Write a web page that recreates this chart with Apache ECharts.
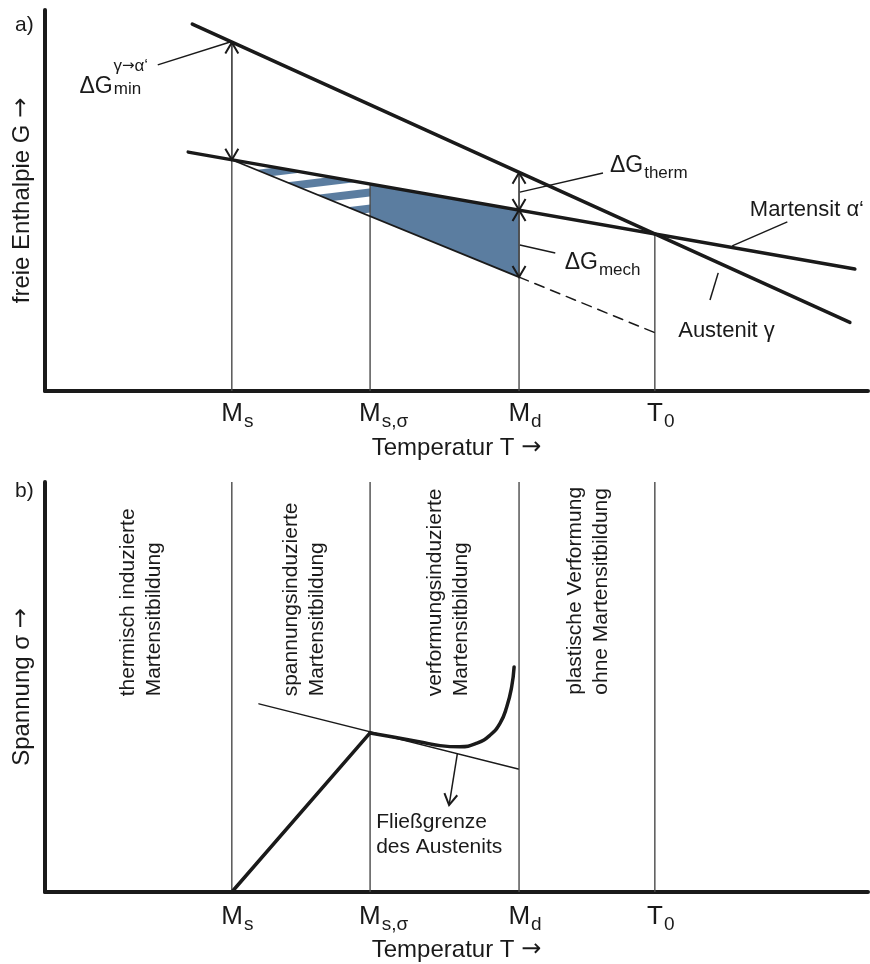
<!DOCTYPE html>
<html>
<head>
<meta charset="utf-8">
<title>Martensitbildung – freie Enthalpie und Spannung</title>
<script src="https://cdn.jsdelivr.net/npm/echarts@6/dist/echarts.min.js"></script>
<style>
  html, body { margin: 0; padding: 0; background: #fff; }
  #chart { width: 870px; height: 964px; }
</style>
</head>
<body>
<div id="chart"></div>
<script>
// schematic units: x = Temperatur 0..100, y = G (a) bzw. Spannung (b) 0..100
const tempTicks = [22.7, 39.5, 57.6, 74.1];
const tempMain = ['M', 'M', 'M', 'T'];
const tempSub = ['s', 's,σ', 'd', '0'];

// a) freie Enthalpie
const austenitLine = [[17.9, 96.3], [97.8, 18.0]];
const martensitLine = [[17.4, 62.7], [98.4, 32.0]];
const mechLine = [[22.7, 60.7], [57.6, 29.9]];
const mechDashed = [[57.6, 29.9], [74.1, 15.3]];
const fillArea = [[39.5, 54.3], [57.6, 47.5], [57.6, 29.9], [39.5, 45.9]];
const hatchArea = [[22.7, 60.7], [39.5, 54.3], [39.5, 45.9]];
const gVerticalTop = [91.5, 54.3, 57.3, 41.2];
// x1, y1, x2, y2, head at start, head at end
const gArrows = [
  [22.7, 91.5, 22.7, 60.7, 1, 1],
  [57.6, 57.3, 57.6, 47.5, 1, 1],
  [57.6, 47.5, 57.6, 29.9, 1, 1]
];
const gLeaders = [
  [13.7, 85.6, 22.5, 91.6],
  [57.7, 52.2, 67.8, 57.2],
  [57.7, 38.3, 62.0, 36.2],
  [90.2, 44.4, 83.5, 38.1],
  [81.8, 31.0, 80.8, 23.9]
];
const gLabelX = [4.25, 68.7, 63.2, 85.7, 77.0];
const gLabelY = [81.9, 58.8, 33.3, 47.5, 15.7];
const gLabelText = [
  '{pad| }{sup|γ}{arr|→}{sup|α‘}\n{g|ΔG}{subm|min}',
  '{g|ΔG}{sub|therm}',
  '{g|ΔG}{sub|mech}',
  '{t|Martensit α‘}',
  '{t|Austenit γ}'
];

// b) Spannung
const sigmaThick = [[22.7, 0], [39.5, 38.8]];
const fliessLine = [[26.0, 45.9], [57.5, 30.0]];
const sigmaCurve = [
  [39.5, 38.8], [42.3, 37.8], [45.6, 36.6], [48.0, 35.7], [50.4, 35.4], [52.5, 36.3],
  [54.1, 38.3], [55.3, 41.2], [56.1, 45.1], [56.7, 50.0], [57.0, 54.9]
];
const sVerticalTop = [100, 100, 100, 100];
const sArrows = [[50.1, 33.7, 49.1, 21.2, 0, 1]];
const zoneX = [11.7, 31.6, 49.1, 66.1];
const zoneY = [47.6, 47.6, 47.6, 48.0];
const zoneText = [
  'thermisch induzierte\nMartensitbildung',
  'spannungsinduzierte\nMartensitbildung',
  'verformungsinduzierte\nMartensitbildung',
  'plastische Verformung\nohne Martensitbildung'
];
const fliessX = [40.3];
const fliessY = [13.8];
const fliessText = ['Fließgrenze\ndes Austenits'];

const FONT = '"Liberation Sans", Arial, Helvetica, sans-serif';
const ARROW_FONT = '"DejaVu Sans", sans-serif';
const INK = '#1a1a1a';
const GREY = '#4a4a4a';
const BLUE = '#5b7da0';

// striped fill for the hatched triangle
const stripe = document.createElement('canvas');
stripe.width = 16;
stripe.height = 16;
const sctx = stripe.getContext('2d');
sctx.fillStyle = '#fff';
sctx.fillRect(0, 0, 16, 16);
sctx.fillStyle = BLUE;
sctx.fillRect(0, 0, 16, 8);

const RICH = {
  g: { fontSize: 23, lineHeight: 24, verticalAlign: 'top', fontFamily: FONT, color: INK },
  sub: { fontSize: 17, lineHeight: 17, padding: [10, 0, 0, 1], verticalAlign: 'top', fontFamily: FONT, color: INK },
  subm: { fontSize: 17, lineHeight: 17, padding: [5, 0, 0, 1], verticalAlign: 'top', fontFamily: FONT, color: INK },
  sup: { fontSize: 17, lineHeight: 18, fontFamily: FONT, color: INK },
  arr: { fontSize: 15, lineHeight: 18, fontFamily: ARROW_FONT, color: INK },
  pad: { width: 34, fontSize: 17, lineHeight: 18 },
  t: { fontSize: 22, lineHeight: 24, fontFamily: FONT, color: INK }
};

const TICK_RICH = {
  m: { fontSize: 26, lineHeight: 26, verticalAlign: 'top', fontFamily: FONT, color: INK },
  s: { fontSize: 19, lineHeight: 19, padding: [11, 0, 0, 1], verticalAlign: 'top', fontFamily: FONT, color: INK },
  p0: { width: 11, fontSize: 19 },
  p1: { width: 27, fontSize: 19 },
  p2: { width: 12, fontSize: 19 },
  p3: { width: 12, fontSize: 19 }
};

const NAME_RICH = {
  a: { fontFamily: ARROW_FONT, fontSize: 24, color: INK }
};

function tickLabel(v) {
  const i = tempTicks.indexOf(v);
  if (i < 0) return '';
  return '{p' + i + '| }{m|' + tempMain[i] + '}{s|' + tempSub[i] + '}';
}

function lineSeries(grid, data, width, dash, smooth) {
  return {
    type: 'line', xAxisIndex: grid, yAxisIndex: grid, data: data,
    symbol: 'none', silent: true, smooth: !!smooth,
    lineStyle: { color: INK, width: width, type: dash || 'solid', cap: 'round' }
  };
}

function chevron(tip, from) {
  const dx = tip[0] - from[0], dy = tip[1] - from[1];
  const l = Math.hypot(dx, dy) || 1;
  const ux = dx / l, uy = dy / l;
  const bx = tip[0] - ux * 11, by = tip[1] - uy * 11;
  return [[bx - uy * 6.5, by + ux * 6.5], tip, [bx + uy * 6.5, by - ux * 6.5]];
}

function segmentSeries(grid, rows, color, width) {
  return {
    type: 'custom', xAxisIndex: grid, yAxisIndex: grid, silent: true, data: rows,
    renderItem: function (params, api) {
      const a = api.coord([api.value(0), api.value(1)]);
      const b = api.coord([api.value(2), api.value(3)]);
      const children = [{
        type: 'line', shape: { x1: a[0], y1: a[1], x2: b[0], y2: b[1] },
        style: { stroke: color, lineWidth: width }
      }];
      if (api.value(4)) children.push({ type: 'polyline', shape: { points: chevron(a, b) }, style: { stroke: INK, lineWidth: 2, fill: null } });
      if (api.value(5)) children.push({ type: 'polyline', shape: { points: chevron(b, a) }, style: { stroke: INK, lineWidth: 2, fill: null } });
      return { type: 'group', children: children };
    }
  };
}

function polySeries(grid, pts, fill) {
  return {
    type: 'custom', xAxisIndex: grid, yAxisIndex: grid, silent: true, data: [[0, 0]],
    renderItem: function (params, api) {
      const px = pts.map(function (p) { return api.coord(p); });
      // stripes start at the tip of the triangle
      const f = fill === 'hatch'
        ? { image: stripe, repeat: 'repeat', rotation: -0.12, x: px[0][0], y: px[0][1] - 3 }
        : fill;
      return { type: 'polygon', shape: { points: px }, style: { fill: f } };
    }
  };
}

function labelSeries(grid, xs, ys, texts, extra) {
  return {
    type: 'scatter', xAxisIndex: grid, yAxisIndex: grid, silent: true, clip: false,
    symbolSize: 1, itemStyle: { color: 'rgba(0,0,0,0)', opacity: 1 },
    data: xs.map(function (x, i) { return [x, ys[i]]; }),
    label: Object.assign({
      show: true, position: [0, 0], align: 'left', verticalAlign: 'middle',
      color: INK, fontFamily: FONT, fontSize: 21,
      formatter: function (p) { return texts[p.dataIndex]; }
    }, extra)
  };
}

const verticalsA = tempTicks.map(function (x, i) { return [x, gVerticalTop[i], x, 0, 0, 0]; });
const verticalsB = tempTicks.map(function (x, i) { return [x, sVerticalTop[i], x, 0, 0, 0]; });
const leaderRows = gLeaders.map(function (r) { return r.concat([0, 0]); });

function xAxis(grid, margin, gap) {
  return {
    type: 'value', gridIndex: grid, min: 0, max: 100,
    axisLine: { show: true, onZero: false, lineStyle: { color: INK, width: 4 } },
    axisTick: { show: false }, splitLine: { show: false },
    axisLabel: { show: true, customValues: tempTicks, margin: margin, formatter: tickLabel, rich: TICK_RICH },
    name: 'Temperatur T {a|→}', nameLocation: 'middle', nameGap: gap,
    nameTextStyle: { fontSize: 24, fontFamily: FONT, color: INK, rich: NAME_RICH }
  };
}

function yAxis(grid, name) {
  return {
    type: 'value', gridIndex: grid, min: 0, max: 100,
    axisLine: { show: true, onZero: false, lineStyle: { color: INK, width: 4 } },
    axisTick: { show: false }, splitLine: { show: false }, axisLabel: { show: false },
    name: name + ' {a|→}', nameLocation: 'middle', nameRotate: 90, nameGap: 11,
    nameTextStyle: { fontSize: 24, fontFamily: FONT, color: INK, rich: NAME_RICH }
  };
}

const chart = echarts.init(document.getElementById('chart'));
const option = {
  animation: false,
  backgroundColor: '#fff',
  grid: [
    { left: 45, top: 10, width: 823, height: 381, outerBoundsMode: 'none' },
    { left: 45, top: 482, width: 823, height: 410, outerBoundsMode: 'none' }
  ],
  xAxis: [xAxis(0, 10, 45), xAxis(1, 12, 46)],
  yAxis: [yAxis(0, 'freie Enthalpie G'), yAxis(1, 'Spannung σ')],
  graphic: [
    { type: 'text', left: 15, top: 15, style: { text: 'a)', fontSize: 21, fontFamily: FONT, fill: INK } },
    { type: 'text', left: 15, top: 481, style: { text: 'b)', fontSize: 21, fontFamily: FONT, fill: INK } }
  ],
  series: [
    // a)
    polySeries(0, fillArea, BLUE),
    polySeries(0, hatchArea, 'hatch'),
    segmentSeries(0, verticalsA, GREY, 1.4),
    lineSeries(0, mechDashed, 1.5, [10, 7]),
    lineSeries(0, mechLine, 1.8),
    lineSeries(0, austenitLine, 3.5),
    lineSeries(0, martensitLine, 3.5),
    segmentSeries(0, gArrows, GREY, 1.4),
    segmentSeries(0, leaderRows, INK, 1.5),
    labelSeries(0, gLabelX, gLabelY, gLabelText, { rich: RICH }),
    // b)
    segmentSeries(1, verticalsB, GREY, 1.4),
    lineSeries(1, fliessLine, 1.4),
    lineSeries(1, sigmaThick, 3.5),
    lineSeries(1, sigmaCurve, 3.5, null, 0.4),
    segmentSeries(1, sArrows, INK, 1.5),
    labelSeries(1, zoneX, zoneY, zoneText, { rotate: 90, lineHeight: 26, fontSize: 21 }),
    labelSeries(1, fliessX, fliessY, fliessText, { lineHeight: 25, fontSize: 21 })
  ]
};
chart.setOption(option);
</script>
</body>
</html>
